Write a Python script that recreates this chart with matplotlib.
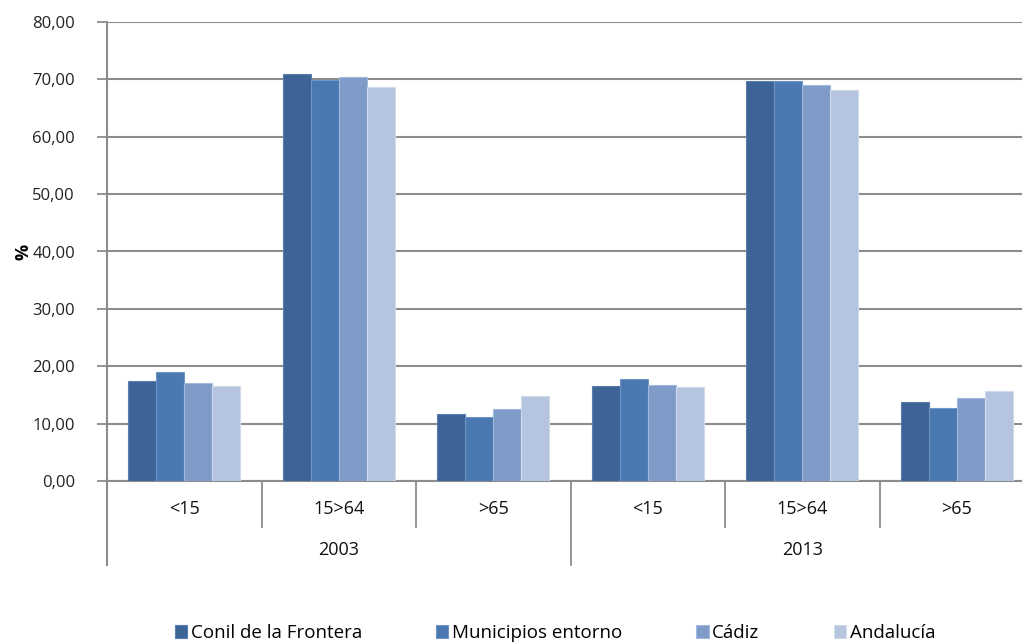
import matplotlib
matplotlib.use("Agg")
import matplotlib.pyplot as plt
import matplotlib.transforms as mtransforms
import numpy as np

plt.rcParams['font.family'] = ['Open Sans', 'DejaVu Sans']

years = ["2003", "2013"]
age_groups = ["<15", "15>64", ">65"]
series_names = ["Conil de la Frontera", "Municipios entorno", "Cádiz", "Andalucía"]
conil = [17.4, 71.0, 11.7, 16.6, 69.8, 13.8]
municipios = [19.0, 69.9, 11.1, 17.7, 69.8, 12.7]
cadiz = [17.1, 70.5, 12.5, 16.8, 69.0, 14.4]
andalucia = [16.6, 68.7, 14.8, 16.3, 68.1, 15.6]
y_ticks = [0, 10, 20, 30, 40, 50, 60, 70, 80]

colors = ["#3D6496", "#4A78B0", "#7F9BC8", "#B5C4DF"]
edges = ["#5A7FAF", "#6F95C4", "#A3B8DA", "#D0DBEC"]

fig = plt.figure(figsize=(10.22, 6.43), dpi=100)
ax = fig.add_axes([107/1022, (643-481)/643, (1034-107)/1022, (481-22)/643])

n_cat = len(years) * len(age_groups)
x = np.arange(n_cat)
w = 0.181
data = [conil, municipios, cadiz, andalucia]
for i, (vals, c, e, name) in enumerate(zip(data, colors, edges, series_names)):
    ax.bar(x + (i - 1.5) * w, vals, width=w, color=c, edgecolor=e, linewidth=0.8,
           label=name, zorder=3)

ax.set_xlim(-0.5, n_cat - 0.5)
ax.set_ylim(0, 80)
ax.set_yticks(y_ticks)
ax.set_yticklabels([f"{v:.2f}".replace(".", ",") for v in y_ticks], fontsize=12, color="#222222")
ax.yaxis.grid(True, color="#8C8C8C", linewidth=1.5, zorder=0)
ax.set_axisbelow(True)
ax.tick_params(axis="y", length=7, width=1.3, color="#8C8C8C", pad=16)
ax.tick_params(axis="x", length=0, bottom=False, labelbottom=False)

for s in ["top", "right"]:
    ax.spines[s].set_visible(False)
for s in ["left", "bottom"]:
    ax.spines[s].set_color("#8C8C8C")
    ax.spines[s].set_linewidth(1.5)

ax.set_ylabel("%", fontsize=13, fontweight="bold")
ax.yaxis.set_label_coords(-0.080, 0.5)

trans = mtransforms.blended_transform_factory(ax.transData, ax.transAxes)
axh = 481 - 22
# category labels
labels = age_groups * len(years)
for xi, lab in zip(x, labels):
    ax.text(xi, -(509 - 481) / axh, lab, transform=trans, ha="center", va="center",
            fontsize=13, color="#111111")
# category separators
for b in range(1, n_cat):
    yb = -(527 - 481) / axh if b % 3 else -(565 - 481) / axh
    ax.plot([b - 0.5, b - 0.5], [0, yb], transform=trans, color="#8C8C8C",
            linewidth=1.3, clip_on=False)
ax.plot([-0.5, -0.5], [0, -(565 - 481) / axh], transform=trans, color="#8C8C8C",
        linewidth=1.5, clip_on=False)
# year labels
for k, yr in enumerate(years):
    ax.text(k * 3 + 1, -(550 - 481) / axh, yr, transform=trans, ha="center", va="center",
            fontsize=13, color="#111111")

leg = fig.legend(loc="center", bbox_to_anchor=(555/1022, 1 - 633/643), ncol=4,
                 frameon=False, fontsize=13.5, handlelength=0.65, handleheight=0.65,
                 handletextpad=0.2, columnspacing=3.95)

fig.savefig("out.png", dpi=100)
